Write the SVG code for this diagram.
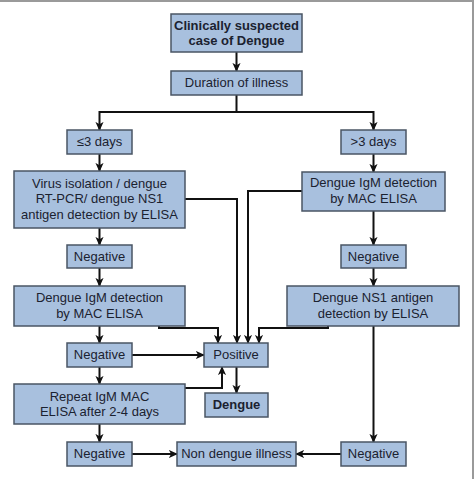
<svg xmlns="http://www.w3.org/2000/svg" width="474" height="479" viewBox="0 0 474 479">
<style>
.box{fill:#a8c0de;stroke:#4a5564;stroke-width:1.5}
.t{font-family:"Liberation Sans",Arial,sans-serif;font-size:13px;fill:#1b2230;text-anchor:middle}
.b{font-weight:bold}
.c{fill:none;stroke:#111;stroke-width:2}
.a{marker-end:url(#ah)}
</style>
<defs>
<marker id="ah" viewBox="0 0 10 10" refX="9" refY="5" markerWidth="9" markerHeight="9" markerUnits="userSpaceOnUse" orient="auto">
<path d="M0,0.5 L10,5 L0,9.5 L2.5,5 z" fill="#111"/>
</marker>
</defs>
<rect x="0" y="0" width="474" height="479" fill="#fff"/>
<rect x="0" y="0" width="474" height="2" fill="#9a9a9a"/>
<rect x="472" y="0" width="2" height="479" fill="#9a9a9a"/>

<g id="connectors">
<path class="c a" d="M236.5,52 V71"/>
<path class="c" d="M236.5,95 V112 M99.5,112 H373.5"/>
<path class="c a" d="M99.5,111 V130"/>
<path class="c a" d="M373.5,111 V130"/>
<path class="c a" d="M99.5,154 V171"/>
<path class="c a" d="M373.5,154 V172"/>
<path class="c a" d="M99.5,228 V245"/>
<path class="c a" d="M373.5,211 V245"/>
<path class="c a" d="M99.5,268 V286"/>
<path class="c a" d="M373.5,268 V286"/>
<path class="c a" d="M185,199 H237 V343"/>
<path class="c a" d="M302,191 H248 V343"/>
<path class="c a" d="M159,326 V328 H218 V343"/>
<path class="c a" d="M328,326 V328 H259 V343"/>
<path class="c a" d="M99.5,326 V343"/>
<path class="c a" d="M132,355 H204"/>
<path class="c a" d="M99.5,367 V384"/>
<path class="c a" d="M185,388 H222 V367"/>
<path class="c a" d="M236.5,367 V393"/>
<path class="c a" d="M99.5,424 V442"/>
<path class="c a" d="M373.5,326 V442"/>
<path class="c a" d="M132,454 H177"/>
<path class="c a" d="M341,454 H296"/>
</g>

<g id="n-suspected"><rect class="box" x="171" y="14" width="131" height="38"/><text class="t b" x="236.5" y="29.5">Clinically suspected</text><text class="t b" x="236.5" y="45">case of Dengue</text></g>
<g id="n-duration"><rect class="box" x="171" y="71" width="131" height="24"/><text class="t" x="236.5" y="86.5">Duration of illness</text></g>
<g id="n-le3"><rect class="box" x="67" y="130" width="65" height="24"/><text class="t" x="99.5" y="146">≤3 days</text></g>
<g id="n-gt3"><rect class="box" x="341" y="130" width="65" height="24"/><text class="t" x="373.5" y="146">&gt;3 days</text></g>
<g id="n-virus"><rect class="box" x="14" y="171" width="171" height="57"/><text class="t" x="99.5" y="187.5">Virus isolation / dengue</text><text class="t" x="99.5" y="203">RT-PCR/ dengue NS1</text><text class="t" x="99.5" y="218.5">antigen detection by ELISA</text></g>
<g id="n-igm-right"><rect class="box" x="302" y="172" width="143" height="39"/><text class="t" x="373.5" y="187">Dengue IgM detection</text><text class="t" x="373.5" y="202.5">by MAC ELISA</text></g>
<g id="n-neg1-left"><rect class="box" x="67" y="245" width="65" height="23"/><text class="t" x="99.5" y="261">Negative</text></g>
<g id="n-neg1-right"><rect class="box" x="341" y="245" width="65" height="23"/><text class="t" x="373.5" y="261">Negative</text></g>
<g id="n-igm-left"><rect class="box" x="14" y="286" width="171" height="40"/><text class="t" x="99.5" y="302">Dengue IgM detection</text><text class="t" x="99.5" y="317.5">by MAC ELISA</text></g>
<g id="n-ns1"><rect class="box" x="287" y="286" width="172" height="40"/><text class="t" x="373" y="302">Dengue NS1 antigen</text><text class="t" x="373" y="317.5">detection by ELISA</text></g>
<g id="n-neg2-left"><rect class="box" x="67" y="343" width="65" height="24"/><text class="t" x="99.5" y="359">Negative</text></g>
<g id="n-positive"><rect class="box" x="204" y="343" width="64" height="24"/><text class="t" x="236" y="359">Positive</text></g>
<g id="n-repeat"><rect class="box" x="14" y="384" width="171" height="40"/><text class="t" x="99.5" y="400.5">Repeat IgM MAC</text><text class="t" x="99.5" y="415.5">ELISA after 2-4 days</text></g>
<g id="n-dengue"><rect class="box" x="205" y="393" width="63" height="24"/><text class="t b" x="236.5" y="409">Dengue</text></g>
<g id="n-neg3-left"><rect class="box" x="67" y="442" width="65" height="24"/><text class="t" x="99.5" y="458">Negative</text></g>
<g id="n-nondengue"><rect class="box" x="177" y="442" width="119" height="24"/><text class="t" x="236.5" y="458">Non dengue illness</text></g>
<g id="n-neg3-right"><rect class="box" x="341" y="442" width="65" height="24"/><text class="t" x="373.5" y="458">Negative</text></g>
</svg>
